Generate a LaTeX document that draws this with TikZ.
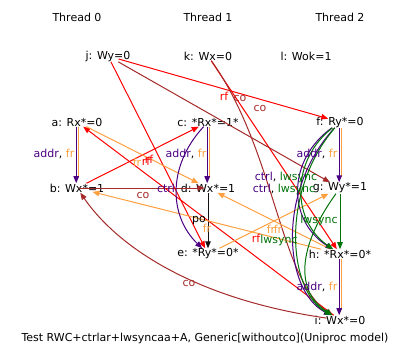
\documentclass[tikz,border=0pt]{standalone}
\usepackage{fontspec}
\setmainfont{DejaVu Sans}
\usetikzlibrary{arrows.meta}
\definecolor{hrdRf}{HTML}{FF0000}
\definecolor{hrdCo}{HTML}{A52A2A}
\definecolor{hrdFr}{HTML}{FFA040}
\definecolor{hrdDep}{HTML}{4B0082}
\definecolor{hrdSync}{HTML}{00740A}
\definecolor{hrdPo}{HTML}{111111}
\tikzset{
    >={Triangle[length=7pt,width=5.5pt]},
    every picture/.style={font=\fontsize{11}{13}\selectfont},
    ev/.style={inner xsep=-12pt, inner ysep=0.3pt, text=black},
    lab/.style={inner sep=0pt},
    rfarrow/.style={->, line width=1pt, draw=hrdRf},
    coarrow/.style={->, line width=1pt, draw=hrdCo},
    frarrow/.style={->, line width=1pt, draw=hrdFr},
    frline/.style={line width=1pt, draw=hrdFr},
    deparrow/.style={->, line width=1pt, draw=hrdDep},
    syncarrow/.style={->, line width=1pt, draw=hrdSync},
    poarrow/.style={->, line width=1pt, draw=hrdPo}
}
\newcommand{\addrfr}{{\color{hrdDep}addr}, {\color{hrdFr}fr}}
\newcommand{\ctrlsync}{{\color{hrdDep}ctrl}, {\color{hrdSync}lwsync}}

\begin{document}
\begin{tikzpicture}[x=1pt, y=-1pt]
\useasboundingbox (0,0) rectangle (413,361);
% threads
\node[lab] (th0) at (77,17) {Thread 0};
\node[lab] (th1) at (208,17) {Thread 1};
\node[lab] (th2) at (340,17) {Thread 2};
% events
\node[ev] (j) at (108,56) {j: Wy=0};
\node[ev] (k) at (208,56) {k: Wx=0};
\node[ev] (l) at (306,56) {l: Wok=1};
\node[ev] (a) at (77,122) {a: Rx*=0};
\node[ev] (c) at (208,122) {c: *Rx*=1*};
\node[ev] (f) at (340,122) {f: Ry*=0};
\node[ev] (b) at (77,188) {b: Wx*=1};
\node[ev] (d) at (208,188) {d: Wx*=1};
\node[ev] (g) at (340,188) {g: Wy*=1};
\node[ev] (e) at (208,254) {e: *Ry*=0*};
\node[ev] (h) at (340,254) {h: *Rx*=0*};
\node[ev] (i) at (340,320) {i: Wx*=0};

% addr + fr pairs
\foreach \s/\t in {a/b, c/d, f/g, h/i} {
  \draw[frline, shorten >=5pt] ([xshift=1.4pt]\s.south) -- ([xshift=1.4pt]\t.north);
  \draw[deparrow] ([xshift=-0.8pt]\s.south) -- ([xshift=-0.8pt]\t.north);
}
\draw[poarrow] (d) -- (e);
\draw[syncarrow] (g) -- (h);
\draw[coarrow, shorten <=-13pt, shorten >=-12pt] (b) -- (d);

% rf
\draw[rfarrow] (b) -- (c);
\draw[rfarrow] (i) -- (a);
\draw[rfarrow] (j) -- (e);
\draw[rfarrow] (j) -- (f);
\draw[rfarrow] (k) -- (h);

% co
\draw[coarrow] (j) -- (g);
\draw[coarrow] (k) .. controls (275,150) and (280,280) .. (i);
\draw[coarrow] (i) .. controls (200,300) and (120,250) .. (b);

% fr
\draw[frarrow] (a) -- (d);
\draw[frarrow] (h) -- (b);
\draw[frarrow] (e) -- (g);
\draw[frarrow] (h) -- (d);

% ctrl / lwsync
\draw[deparrow] (c) .. controls (168,165) and (168,215) .. (e);
\draw[deparrow] (f) .. controls (287,160) and (287,220) .. (h);
\draw[syncarrow] (f) .. controls (291,160) and (291,220) .. (h);
\draw[deparrow] (f) .. controls (277,190) and (283,290) .. (i);
\draw[syncarrow] (f) .. controls (281,190) and (287,290) .. (i);
\draw[syncarrow] (g) .. controls (292,255) and (300,295) .. (i);

% labels
\node[lab] (lab-ab) at (54,154) {\addrfr};
\node[lab] (lab-cd) at (186,154) {\addrfr};
\node[lab] (lab-fg) at (317,154) {\addrfr};
\node[lab] (lab-hi) at (317,287) {\addrfr};
\node[lab, text=hrdDep] (lab-ce) at (166,188) {ctrl};
\node[lab] (lab-fh) at (286,177) {\ctrlsync};
\node[lab] (lab-fi) at (284,189) {\ctrlsync};
\node[lab, text=hrdSync] (lab-gh) at (319,220) {lwsync};
\node[lab, text=hrdSync] (lab-gi) at (279,240) {lwsync};
\node[lab, text=black] (lab-de) at (199,221) {po};
\node[lab, text=hrdCo] (lab-bd) at (143,195) {co};
\node[lab, text=hrdCo] (lab-ib) at (189,283) {co};
\node[lab, text=hrdCo] (lab-jg) at (240,98) {co};
\node[lab, text=hrdCo] (lab-ki) at (260,108) {co};
\node[lab, text=hrdRf] (lab-jf) at (224,96) {rf};
\node[lab, text=hrdRf] (lab-kh) at (256,238) {rf};
\node[lab, text=hrdRf] (lab-bc) at (146,161) {rf};
\node[lab, text=hrdRf] (lab-ia) at (149,159) {rf};
\node[lab, text=hrdFr] (lab-ad) at (137,162) {fr};
\node[lab, text=hrdFr] (lab-hb) at (207,228) {fr};
\node[lab, text=hrdFr] (lab-eg) at (271,229) {fr};
\node[lab, text=hrdFr] (lab-hd) at (278,229) {fr};
\node[lab] (title) at (205,338) {Test RWC+ctrlar+lwsyncaa+A, Generic[withoutco](Uniproc model)};
\end{tikzpicture}
\end{document}
